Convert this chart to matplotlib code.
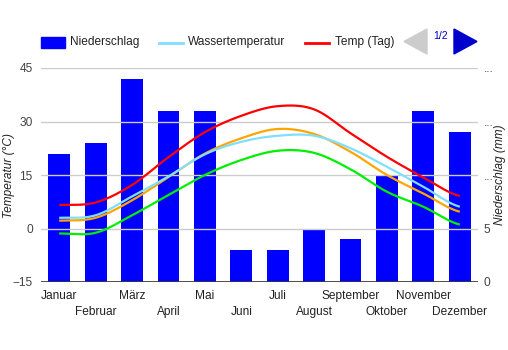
import numpy as np
import matplotlib
matplotlib.use("Agg")
import matplotlib.pyplot as plt
from matplotlib.patches import Rectangle, Polygon
from matplotlib.lines import Line2D
from matplotlib.transforms import blended_transform_factory

plt.rcParams['font.family'] = ['Liberation Sans', 'DejaVu Sans']

months = ["Januar", "Februar", "März", "April", "Mai", "Juni", "Juli",
          "August", "September", "Oktober", "November", "Dezember"]
niederschlag = [12, 13, 19, 16, 16, 3, 3, 5, 4, 10, 16, 14]
wassertemp = [3.0, 3.7, 9.0, 14.6, 20.8, 24.3, 26.0, 26.0, 22.5, 17.3, 11.7, 6.1]
temp_tag = [6.6, 7.3, 12.2, 20.0, 27.0, 31.6, 34.3, 33.4, 26.7, 20.1, 14.3, 9.1]
temp_orange = [2.2, 3.0, 7.9, 14.4, 21.0, 25.3, 27.9, 26.5, 21.5, 15.0, 9.8, 4.7]
temp_green = [-1.4, -1.2, 3.7, 9.4, 15.0, 19.2, 21.8, 21.2, 16.6, 10.3, 6.1, 1.1]

left_ticks = [-15, 0, 15, 30, 45]
right_ticks = [0, 5, 10, 15, 20]
right_labels = ["0", "5", "...", "...", "..."]

W, H = 508, 350
fig = plt.figure(figsize=(W / 100, H / 100), dpi=100)


def fx(px):
    return px / W


def fy(py):
    return 1 - py / H


ax = fig.add_axes([41 / W, 1 - 282 / H, (478 - 41) / W, (282 - 68) / H])
ax2 = ax.twinx()

x = np.arange(len(months))

# bars on secondary (precipitation) axis
ax2.bar(x, niederschlag, width=0.6, color="#0000ff", zorder=2)
ax2.set_ylim(0, 20)
ax2.set_yticks(right_ticks)
ax2.set_yticklabels(right_labels)
ax2.tick_params(axis='y', length=0, pad=4, labelsize=8.6, labelcolor="#444444")
for s in ax2.spines.values():
    s.set_visible(False)

ax.set_ylim(-15, 45)
ax.set_xlim(-0.5, len(months) - 0.5)
ax.set_yticks(left_ticks)
ax.tick_params(axis='y', length=0, pad=6, labelsize=8.6, labelcolor="#444444")
ax.grid(axis='y', color="#cccccc", linewidth=1)
ax.set_axisbelow(True)
for s in ax.spines.values():
    s.set_visible(False)
ax.axhline(-15, color="#333333", linewidth=1.2, zorder=5)
ax.set_xticks([])

fig.text(fx(9), fy(175), "Temperatur (°C)", fontsize=8.6, style='italic', color="#222222",
         rotation=90, ha='center', va='center')
fig.text(fx(500), fy(175), "Niederschlag (mm)", fontsize=8.6, style='italic', color="#222222",
         rotation=90, ha='center', va='center')

# month labels in two staggered rows
tr = blended_transform_factory(ax.transData, fig.transFigure)
for i, m in enumerate(months):
    yy = 296 if i % 2 == 0 else 312
    ax.text(x[i], fy(yy), m, transform=tr, fontsize=8.6, color="#222222",
            ha='center', va='center')

# lines drawn in front of bars
ax.set_zorder(ax2.get_zorder() + 1)
ax.patch.set_visible(False)


def smooth(xs, ys, n=20):
    xs = np.asarray(xs, float)
    ys = np.asarray(ys, float)
    px = np.concatenate([[xs[0]], xs, [xs[-1]]])
    py = np.concatenate([[ys[0]], ys, [ys[-1]]])
    ox, oy = [], []
    t = np.linspace(0, 1, n, endpoint=False)
    for i in range(1, len(px) - 2):
        p0, p1, p2, p3 = py[i - 1], py[i], py[i + 1], py[i + 2]
        m1 = (p2 - p0) / 2
        m2 = (p3 - p1) / 2
        h00 = 2 * t**3 - 3 * t**2 + 1
        h10 = t**3 - 2 * t**2 + t
        h01 = -2 * t**3 + 3 * t**2
        h11 = t**3 - t**2
        oy.extend(h00 * p1 + h10 * m1 + h01 * p2 + h11 * m2)
        ox.extend(px[i] + t * (px[i + 1] - px[i]))
    ox.append(xs[-1])
    oy.append(ys[-1])
    return np.array(ox), np.array(oy)


for ys, c in [(temp_green, "#00ee00"), (temp_orange, "#ffa500"),
              (wassertemp, "#80dfff"), (temp_tag, "#ff0000")]:
    sx, sy = smooth(x, ys)
    ax.plot(sx, sy, color=c, linewidth=1.6, zorder=4, solid_capstyle='butt')

# legend (figure pixel coordinates)
ly = 42.5
fig.patches.append(Rectangle((fx(41), fy(48)), fx(65) - fx(41), fy(37) - fy(48),
                             transform=fig.transFigure, color="#0000ff"))
fig.text(fx(70), fy(ly), "Niederschlag", fontsize=8.6, color="#222222", va='center', ha='left')
fig.lines.append(Line2D([fx(159), fx(183)], [fy(ly), fy(ly)], transform=fig.transFigure,
                        color="#80dfff", linewidth=2))
fig.text(fx(188), fy(ly), "Wassertemperatur", fontsize=8.6, color="#222222", va='center', ha='left')
fig.lines.append(Line2D([fx(305), fx(329)], [fy(ly), fy(ly)], transform=fig.transFigure,
                        color="#ff0000", linewidth=2))
fig.text(fx(335), fy(ly), "Temp (Tag)", fontsize=8.6, color="#222222", va='center', ha='left')
fig.patches.append(Polygon([(fx(404), fy(41.5)), (fx(427), fy(29)), (fx(427), fy(54))],
                           closed=True, transform=fig.transFigure, color="#cccccc"))
fig.text(fx(440.5), fy(36), "1/2", fontsize=7.5, color="#0000cc", va='center', ha='center')
fig.patches.append(Polygon([(fx(454), fy(29)), (fx(477), fy(41.5)), (fx(454), fy(54))],
                           closed=True, transform=fig.transFigure, color="#0000cc"))

fig.savefig("out.png", dpi=100)
